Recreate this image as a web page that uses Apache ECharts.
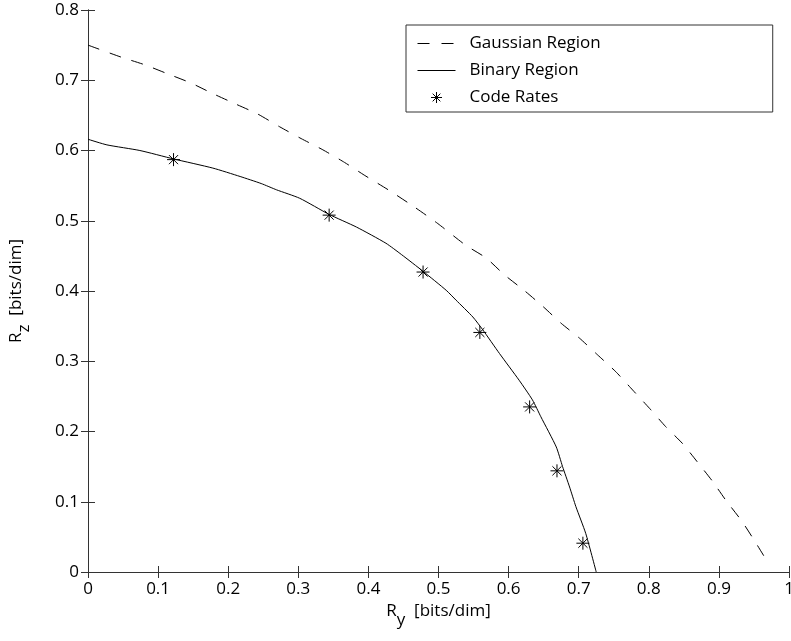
<!DOCTYPE html>
<html>
<head>
<meta charset="utf-8">
<script src="https://cdn.jsdelivr.net/npm/echarts@6/dist/echarts.min.js"></script>
<style>
  html, body { margin: 0; padding: 0; background: #fff; }
  #main { width: 791px; height: 641px; }
</style>
</head>
<body>
<div id="main"></div>
<script>
// values
var gaussX = [0, 0.047, 0.081, 0.114, 0.147, 0.178, 0.211, 0.242, 0.273, 0.304, 0.335, 0.366, 0.394, 0.430, 0.465, 0.499, 0.539, 0.568, 0.594, 0.622, 0.649, 0.675, 0.701, 0.727, 0.753, 0.777, 0.801, 0.824, 0.848, 0.869, 0.891, 0.910, 0.933, 0.953, 0.972];
var gaussY = [0.750, 0.733, 0.722, 0.709, 0.696, 0.681, 0.666, 0.652, 0.634, 0.617, 0.601, 0.583, 0.565, 0.543, 0.520, 0.496, 0.465, 0.447, 0.423, 0.401, 0.378, 0.354, 0.333, 0.309, 0.285, 0.259, 0.233, 0.207, 0.183, 0.157, 0.129, 0.102, 0.072, 0.041, 0.010];

var binX = [0, 0.027, 0.074, 0.122, 0.178, 0.217, 0.247, 0.269, 0.302, 0.344, 0.383, 0.425, 0.447, 0.478, 0.511, 0.525, 0.549, 0.563, 0.587, 0.615, 0.634, 0.646, 0.668, 0.677, 0.687, 0.696, 0.710, 0.725];
var binY = [0.616, 0.608, 0.600, 0.588, 0.575, 0.563, 0.553, 0.544, 0.532, 0.509, 0.491, 0.468, 0.452, 0.428, 0.401, 0.387, 0.363, 0.345, 0.311, 0.273, 0.245, 0.221, 0.178, 0.150, 0.121, 0.093, 0.055, 0];

var rateX = [0.122, 0.344, 0.478, 0.559, 0.630, 0.669, 0.706];
var rateY = [0.587, 0.508, 0.427, 0.341, 0.235, 0.144, 0.041];

var seriesNames = ["Gaussian Region", "Binary Region", "Code Rates"];

function pairs(xs, ys) {
  return xs.map(function (x, i) { return [x, ys[i]]; });
}

var FONT = "Open Sans";
var AXIS_COLOR = "#333";
var star = "path://M6,0L6,12M0,6L12,6M1.8,1.8L10.2,10.2M1.8,10.2L10.2,1.8";

var nameRich = {
  r: { fontSize: 17, fontFamily: FONT, color: "#000", lineHeight: 34 },
  s: { fontSize: 17, fontFamily: FONT, color: "#000", lineHeight: 17, verticalAlign: "bottom" }
};

function tickLabel(v) {
  return String(Math.round(v * 10) / 10);
}

// the line entries get an invisible marker so only the line shows in the legend
var hiddenMark = { color: "transparent", borderWidth: 0 };

var myChart = echarts.init(document.getElementById("main"));
var option = {
  animation: false,
  backgroundColor: "#fff",
  grid: { left: 88, top: 10, right: 2, bottom: 69, containLabel: false, outerBoundsMode: "none" },
  legend: {
    orient: "vertical",
    left: 406,
    top: 25,
    itemWidth: 38,
    itemHeight: 11,
    itemGap: 8,
    padding: [9, 172, 5, 11],
    borderColor: AXIS_COLOR,
    borderWidth: 1,
    backgroundColor: "#fff",
    selectedMode: false,
    textStyle: { fontSize: 17, fontFamily: FONT, color: "#000", lineHeight: 19, padding: [0, 0, 0, 9] },
    data: [
      { name: seriesNames[0], itemStyle: hiddenMark, lineStyle: { width: 1, color: "#000", type: [12, 12] } },
      { name: seriesNames[1], itemStyle: hiddenMark, lineStyle: { width: 1, color: "#000" } },
      { name: seriesNames[2], itemStyle: { color: "transparent", borderColor: "#000", borderWidth: 1 } }
    ]
  },
  xAxis: [
    {
      type: "value",
      min: 0,
      max: 1,
      interval: 0.1,
      position: "bottom",
      axisLine: { show: true, lineStyle: { color: AXIS_COLOR } },
      axisTick: { show: true, inside: true, length: 6, lineStyle: { color: AXIS_COLOR } },
      axisLabel: { margin: 9, fontSize: 17, fontFamily: FONT, color: "#000", formatter: tickLabel },
      splitLine: { show: false },
      name: "{r|R}{s|y}{r|  [bits/dim]}",
      nameLocation: "middle",
      nameGap: 20,
      nameTextStyle: { rich: nameRich }
    },
    {
      type: "value",
      min: 0,
      max: 1,
      interval: 0.1,
      position: "top",
      axisLine: { show: true, lineStyle: { color: AXIS_COLOR } },
      axisTick: { show: true, inside: true, length: 6, lineStyle: { color: AXIS_COLOR } },
      axisLabel: { show: false },
      splitLine: { show: false }
    }
  ],
  yAxis: [
    {
      type: "value",
      min: 0,
      max: 0.8,
      interval: 0.1,
      position: "left",
      axisLine: { show: true, lineStyle: { color: AXIS_COLOR } },
      axisTick: { show: true, inside: true, length: 7, lineStyle: { color: AXIS_COLOR } },
      axisLabel: { margin: 9, fontSize: 17, fontFamily: FONT, color: "#000", formatter: tickLabel },
      splitLine: { show: false },
      name: "{r|R}{s|z}{r|  [bits/dim]}",
      nameLocation: "middle",
      nameGap: 55,
      nameRotate: 90,
      nameTextStyle: { rich: nameRich }
    },
    {
      type: "value",
      min: 0,
      max: 0.8,
      interval: 0.1,
      position: "right",
      axisLine: { show: true, lineStyle: { color: AXIS_COLOR } },
      axisTick: { show: true, inside: true, length: 7, lineStyle: { color: AXIS_COLOR } },
      axisLabel: { show: false },
      splitLine: { show: false }
    }
  ],
  series: [
    {
      name: seriesNames[0],
      type: "line",
      symbol: "none",
      smooth: 0.2,
      data: pairs(gaussX, gaussY),
      itemStyle: hiddenMark,
      lineStyle: { color: "#000", width: 1, type: [12, 11] }
    },
    {
      name: seriesNames[1],
      type: "line",
      symbol: "none",
      smooth: 0.2,
      data: pairs(binX, binY),
      itemStyle: hiddenMark,
      lineStyle: { color: "#000", width: 1, type: "solid" }
    },
    {
      name: seriesNames[2],
      type: "scatter",
      symbol: star,
      symbolSize: 13,
      data: pairs(rateX, rateY),
      itemStyle: { color: "transparent", borderColor: "#000", borderWidth: 1, opacity: 1 }
    }
  ]
};
myChart.setOption(option);
</script>
</body>
</html>
